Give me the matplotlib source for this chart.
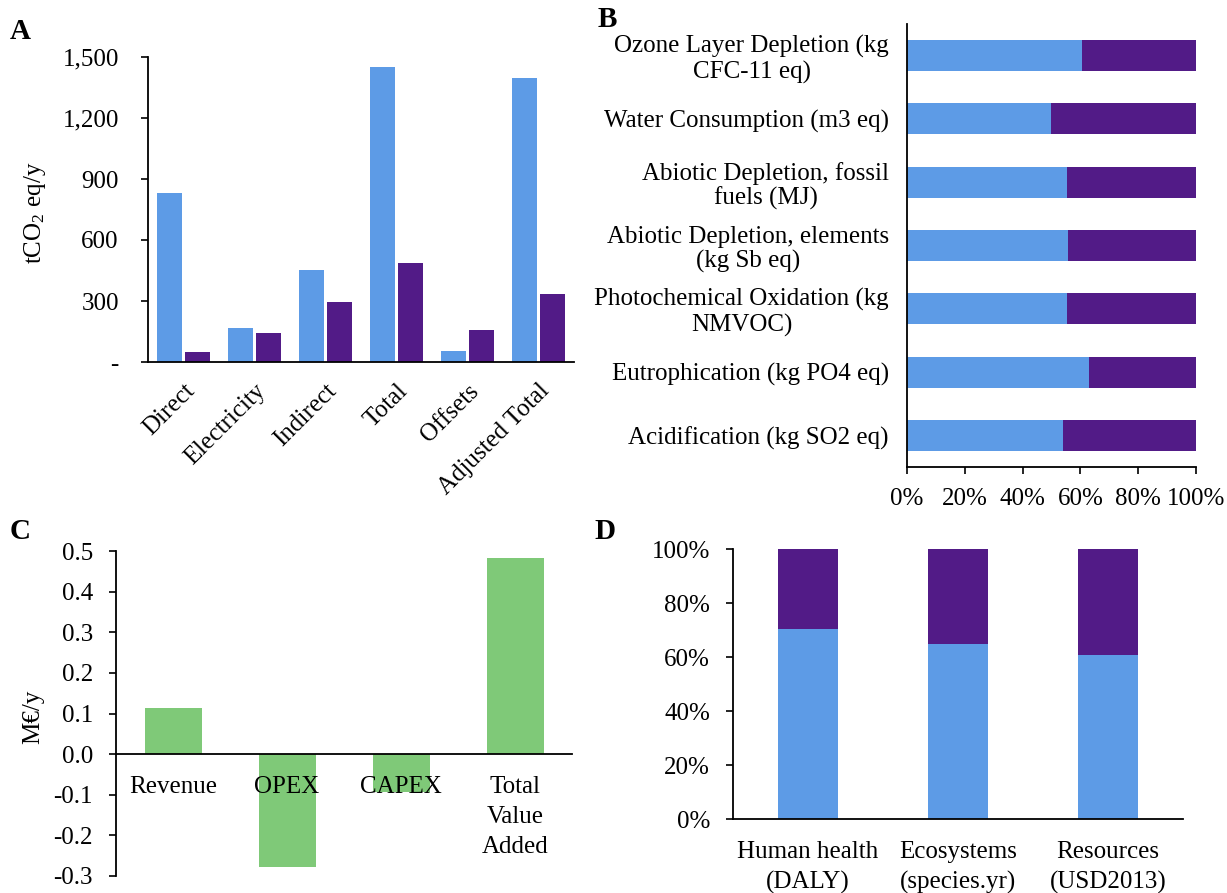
import matplotlib.pyplot as plt
import numpy as np

plt.rcParams['font.family'] = ['Liberation Serif', 'DejaVu Serif']
plt.rcParams['font.size'] = 18
plt.rcParams['mathtext.fontset'] = 'custom'
plt.rcParams['mathtext.rm'] = 'Liberation Serif'
plt.rcParams['mathtext.it'] = 'Liberation Serif:italic'
plt.rcParams['axes.unicode_minus'] = False

blue = '#5d9be6'
purple = '#521b87'
green = '#7fc978'

# A - emissions
a_cats = ['Direct', 'Electricity', 'Indirect', 'Total', 'Offsets', 'Adjusted Total']
a_blue = [830, 168, 453, 1452, 56, 1396]
a_purple = [50, 145, 294, 489, 155, 335]
a_ticks = [0, 300, 600, 900, 1200, 1500]
a_ticklabels = ['-', '300', '600', '900', '1,200', '1,500']

# B - impact categories (shares)
b_cats = ['Ozone Layer Depletion (kg\nCFC-11 eq)', 'Water Consumption (m3 eq)',
          'Abiotic Depletion, fossil\nfuels (MJ)', 'Abiotic Depletion, elements\n(kg Sb eq)',
          'Photochemical Oxidation (kg\nNMVOC)', 'Eutrophication (kg PO4 eq)',
          'Acidification (kg SO2 eq)']
b_blue = [0.604, 0.499, 0.553, 0.556, 0.555, 0.629, 0.541]
b_ticks = [0, 0.2, 0.4, 0.6, 0.8, 1.0]
b_ticklabels = ['0%', '20%', '40%', '60%', '80%', '100%']

# C - economics
c_cats = ['Revenue', 'OPEX', 'CAPEX', 'Total\nValue\nAdded']
c_vals = [0.113, -0.279, -0.094, 0.484]
c_ticks = [-0.3, -0.2, -0.1, 0.0, 0.1, 0.2, 0.3, 0.4, 0.5]

# D - endpoint shares
d_cats = ['Human health\n(DALY)', 'Ecosystems\n(species.yr)', 'Resources\n(USD2013)']
d_blue = [0.705, 0.649, 0.607]
d_ticks = [0, 0.2, 0.4, 0.6, 0.8, 1.0]
d_ticklabels = ['0%', '20%', '40%', '60%', '80%', '100%']

W, H = 1227, 893
fig = plt.figure(figsize=(W/100, H/100), dpi=100)


def box(l, t, r, b):
    return [l/W, 1-b/H, (r-l)/W, (b-t)/H]


def style(ax):
    ax.spines['top'].set_visible(False)
    ax.spines['right'].set_visible(False)
    for s in ['left', 'bottom']:
        ax.spines[s].set_linewidth(1.3)
    ax.tick_params(direction='out', length=5, width=1.2)


# Panel A
axA = fig.add_axes(box(148, 57, 574, 362))
style(axA)
x = np.arange(len(a_cats))
axA.bar(x - 0.2, a_blue, 0.35, color=blue)
axA.bar(x + 0.2, a_purple, 0.35, color=purple)
axA.set_xlim(-0.5, len(a_cats) - 0.5)
axA.set_ylim(0, 1500)
axA.set_yticks(a_ticks)
axA.set_yticklabels(a_ticklabels)
axA.tick_params(axis='y', pad=16)
axA.set_xticks(x)
axA.set_xticklabels(a_cats, rotation=45, ha='right', rotation_mode='anchor')
axA.tick_params(axis='x', length=0, pad=13)
fig.text(35/W, 1-213/H, 'tCO$_\\mathrm{2}$ eq/y', rotation=90, ha='center', va='center')
fig.text(10/W, 1-39/H, 'A', fontsize=21, fontweight='bold')

# Panel B
axB = fig.add_axes(box(907, 24, 1196, 467))
style(axB)
y = np.arange(len(b_cats))
b_purple = [1 - v for v in b_blue]
axB.barh(y, b_blue, 0.49, color=blue)
axB.barh(y, b_purple, 0.49, left=b_blue, color=purple)
axB.set_ylim(len(b_cats) - 0.5, -0.5)
axB.set_xlim(0, 1)
axB.set_xticks(b_ticks)
axB.set_xticklabels(b_ticklabels)
axB.set_yticks(y)
axB.set_yticklabels(b_cats, multialignment='center', linespacing=1.12)
axB.tick_params(axis='y', length=0, pad=13)
axB.tick_params(axis='x', pad=10)
fig.text(598/W, 1-27/H, 'B', fontsize=21, fontweight='bold')

# Panel C
axC = fig.add_axes(box(116, 551, 572, 876))
style(axC)
xc = np.arange(len(c_cats))
axC.bar(xc, c_vals, 0.5, color=green)
axC.set_xlim(-0.5, len(c_cats) - 0.5)
axC.set_ylim(-0.3, 0.5)
axC.set_yticks(c_ticks)
axC.set_yticklabels([f'{v:.1f}' for v in c_ticks])
axC.tick_params(axis='y', pad=11.5)
axC.spines['bottom'].set_position(('data', 0))
axC.set_xticks(xc)
axC.set_xticklabels(c_cats, va='top', linespacing=1.45)
axC.tick_params(axis='x', length=0, pad=16)
fig.text(33/W, 1-717/H, 'M€/y', rotation=90, ha='center', va='center')
fig.text(10/W, 1-539/H, 'C', fontsize=21, fontweight='bold')

# Panel D
axD = fig.add_axes(box(733, 549, 1183, 819))
style(axD)
xd = np.arange(len(d_cats))
d_purple = [1 - v for v in d_blue]
axD.bar(xd, d_blue, 0.4, color=blue)
axD.bar(xd, d_purple, 0.4, bottom=d_blue, color=purple)
axD.set_xlim(-0.5, len(d_cats) - 0.5)
axD.set_ylim(0, 1)
axD.set_yticks(d_ticks)
axD.set_yticklabels(d_ticklabels)
axD.tick_params(axis='y', pad=11.5)
axD.set_xticks(xd)
axD.set_xticklabels(d_cats, linespacing=1.45)
axD.tick_params(axis='x', length=0, pad=16)
fig.text(594/W, 1-539/H, 'D', fontsize=21, fontweight='bold')

fig.savefig('out.png', dpi=100)
